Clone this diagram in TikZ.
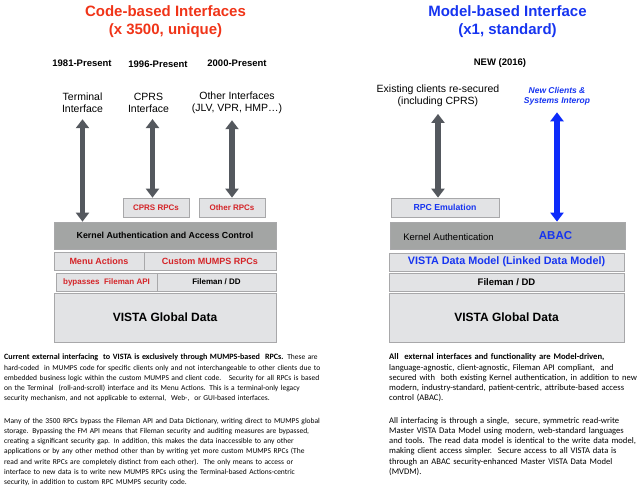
\documentclass[tikz,border=0pt]{standalone}
\usepackage{fontspec}
\setmainfont{Liberation Sans}
\newfontfamily\bodyfont{Carlito}
\usetikzlibrary{arrows.meta,positioning}

\definecolor{codered}{RGB}{240,52,24}
\definecolor{boxred}{RGB}{212,36,40}
\definecolor{modelblue}{RGB}{22,52,240}
\definecolor{arrowgray}{RGB}{84,88,94}
\definecolor{arrowblue}{RGB}{12,42,250}
\definecolor{boxfill}{RGB}{226,227,229}
\definecolor{boxline}{RGB}{168,168,170}
\definecolor{kernfill}{RGB}{163,165,164}

\tikzset{
  layer/.style={draw=boxline, fill=boxfill, line width=0.7pt, inner sep=0pt},
  kernlayer/.style={layer, fill=kernfill},
  twoway/.style={line width=5.5pt, draw=arrowgray,
    {Triangle[width=13pt,length=9pt]}-{Triangle[width=13pt,length=9pt]}},
  lbl/.style={inner sep=0pt, align=center, font=\fontsize{10.5}{12.3}\selectfont},
  yrlbl/.style={inner sep=0pt, font=\bfseries\fontsize{9.5}{11}\selectfont},
  ttl/.style={inner sep=0pt, align=center, font=\bfseries\fontsize{15}{18}\selectfont},
  para/.style={inner sep=0pt, anchor=base west, align=left,
    font=\bodyfont\fontsize{7.5}{10.2}\selectfont}
}

\begin{document}
\begin{tikzpicture}[x=1pt, y=-1pt]
\useasboundingbox (0,0) rectangle (643,486);

% titles
\node[ttl, text=codered] (codettl) at (165.5,22) {Code-based Interfaces\\(x 3500, unique)};
\node[ttl, text=modelblue] (modelttl) at (507.5,22) {Model-based Interface\\(x1, standard)};

% years
\foreach \x/\y/\yr in {82/63/1981, 158/64.3/1996, 237/63/2000}
  \node[yrlbl] (yr\yr) at (\x,\y) {\yr-Present};
\node[yrlbl] (yrnew) at (500,63) {NEW (2016)};

% client labels
\node[lbl] (term) at (82.5,103) {Terminal\\Interface};
\node[lbl] (cprs) at (148.5,103) {CPRS\\Interface};
\node[lbl] (other) at (237,103) {Other Interfaces\\(JLV, VPR, HMP\dots)};
\node[lbl, font=\fontsize{10.5}{11.7}\selectfont] (exist) at (438,96) {Existing clients re-secured\\(including CPRS)};
\node[lbl, text=modelblue, font=\bfseries\itshape\fontsize{8.5}{10.3}\selectfont] (newcl) at (557,96) {New Clients \&\\Systems Interop};

% code-based stack
\node[layer, minimum width=66pt, minimum height=19pt, text=boxred, font=\bfseries\fontsize{8}{9}\selectfont] (cprsrpc) at (156,207.5) {CPRS RPCs};
\node[layer, minimum width=66pt, minimum height=19pt, text=boxred, font=\bfseries\fontsize{8}{9}\selectfont] (otherrpc) at (232,207.5) {Other RPCs};
\node[kernlayer, minimum width=222pt, minimum height=27pt, font=\bfseries\fontsize{8.8}{10}\selectfont] (kernL) at (165,235.5) {Kernel Authentication and Access Control};
\node[layer, minimum width=90pt, minimum height=18pt, text=boxred, font=\bfseries\fontsize{9}{10}\selectfont] (menuact) at (99,261) {Menu Actions};
\node[layer, minimum width=132pt, minimum height=18pt, text=boxred, font=\bfseries\fontsize{9}{10}\selectfont] (custrpc) at (210,261) {Custom MUMPS RPCs};
\node[layer, minimum width=101pt, minimum height=18pt, text=boxred, font=\bfseries\fontsize{8}{9}\selectfont] (bypassfm) at (106.5,282) {bypasses\ \ Fileman API};
\node[layer, minimum width=119pt, minimum height=18pt, font=\bfseries\fontsize{8}{9}\selectfont] (filemanL) at (216.5,282) {Fileman / DD};
\node[layer, minimum width=222pt, minimum height=49pt, font=\bfseries\fontsize{12}{14}\selectfont] (globalL) at (165,317.5) {VISTA Global Data};

% model-based stack
\node[layer, minimum width=108pt, minimum height=19pt, text=modelblue, font=\bfseries\fontsize{8.7}{10}\selectfont] (rpcemu) at (445,207.5) {RPC Emulation};
\node[kernlayer, minimum width=235pt, minimum height=27pt] (kernR) at (507.5,235.5) {};
\node[inner sep=0pt, font=\fontsize{9.5}{11}\selectfont] (kernauth) at (448.5,237.5) {Kernel Authentication};
\node[inner sep=0pt, text=modelblue, font=\bfseries\fontsize{11.5}{13}\selectfont] (abac) at (555.5,235.3) {ABAC};
\node[layer, minimum width=235pt, minimum height=18pt, text=modelblue, font=\bfseries\fontsize{10.8}{12}\selectfont] (vdm) at (506.5,262) {VISTA Data Model (Linked Data Model)};
\node[layer, minimum width=235pt, minimum height=18pt, font=\bfseries\fontsize{9.5}{11}\selectfont] (filemanR) at (506.5,282) {Fileman / DD};
\node[layer, minimum width=235pt, minimum height=49pt, font=\bfseries\fontsize{12}{14}\selectfont] (globalR) at (506.5,317.5) {VISTA Global Data};

% connectors
\draw[twoway, shorten <=6pt] (term.south) -- (term.south |- kernL.north);
\draw[twoway] ([xshift=4pt,yshift=-6pt]cprs.south) -- ([xshift=4pt]cprs.south |- cprsrpc.north);
\draw[twoway] ([yshift=-6pt]other.south -| otherrpc.north) -- (otherrpc.north);
\draw[twoway, shorten <=7pt] (exist.south) -- (exist.south |- rpcemu.north);
\draw[twoway, draw=arrowblue, shorten <=7pt] (newcl.south) -- (newcl.south |- kernR.north);

% notes
\node[para, text width=380pt] (noteL) at (4,360) {%
{\bfseries\fontsize{8.1}{10.2}\selectfont Current external interfacing\ \ to VISTA is exclusively through MUMPS-based\ \ RPCs.} These are\\
hard-coded\ \ in MUMPS code for specific clients only and not interchangeable to other clients due to\\
embedded business logic within the custom MUMPS and client code.\ \ \ Security for all RPCs is based\\
on the Terminal\ \ (roll-and-scroll) interface and its Menu Actions. This is a terminal-only legacy\\
security mechanism, and not applicable to external,\ \ Web-,\ \ or GUI-based interfaces.\\[12.4pt]
Many of the 3500 RPCs bypass the Fileman API and Data Dictionary, writing direct to MUMPS global\\
storage. Bypassing the FM API means that Fileman security and auditing measures are bypassed,\\
creating a significant security gap. In addition, this makes the data inaccessible to any other\\
applications or by any other method other than by writing yet more custom MUMPS RPCs (The\\
read and write RPCs are completely distinct from each other).\ \ The only means to access or\\
interface to new data is to write new MUMPS RPCs using the Terminal-based Actions-centric\\
security, in addition to custom RPC MUMPS security code.};
\node[para, text width=300pt, font=\bodyfont\fontsize{8.6}{10.2}\selectfont] (noteR) at (389,360) {%
{\bfseries All\ \ external interfaces and functionality are Model-driven,}\\
language-agnostic, client-agnostic, Fileman API compliant,\ \ and\\
secured with\ \ both existing Kernel authentication, in addition to new\\
modern, industry-standard, patient-centric, attribute-based access\\
control (ABAC).\\[12.4pt]
All interfacing is through a single,\ \ secure, symmetric read-write\\
Master VISTA Data Model using modern, web-standard languages\\
and tools. The read data model is identical to the write data model,\\
making client access simpler.\ \ Secure access to all VISTA data is\\
through an ABAC security-enhanced Master VISTA Data Model\\
(MVDM).};
\end{tikzpicture}
\end{document}
